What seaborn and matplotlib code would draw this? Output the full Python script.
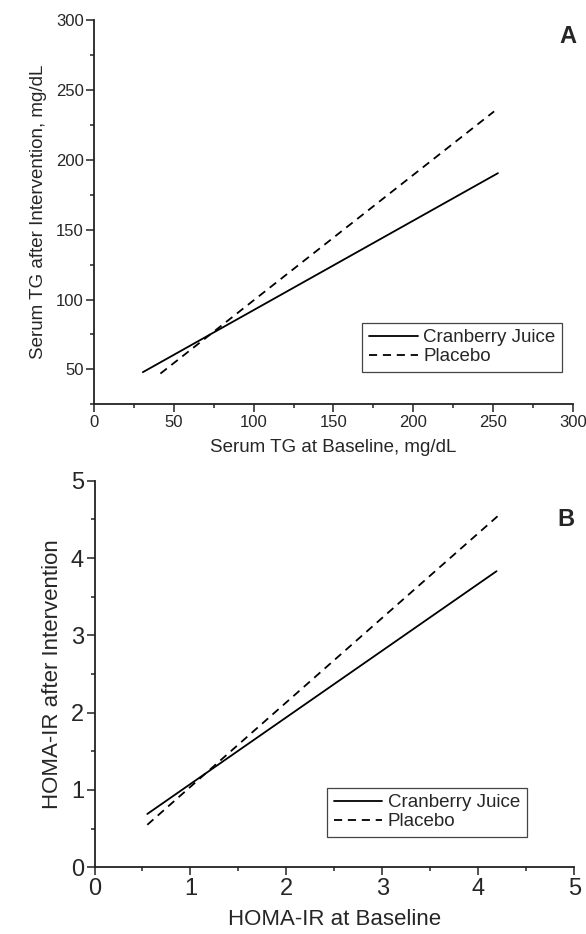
import pandas as pd
import matplotlib
matplotlib.use("Agg")
import matplotlib.pyplot as plt
import seaborn as sns

# Regression lines (start and end points)
groups = ["Cranberry Juice", "Cranberry Juice", "Placebo", "Placebo"]

tg_baseline = [30.6, 253.0, 41.6, 250.6]
tg_after = [48.0, 190.4, 47.0, 234.6]

homa_baseline = [0.55, 4.19, 0.55, 4.20]
homa_after = [0.69, 3.83, 0.55, 4.54]

df_a = pd.DataFrame({"x": tg_baseline, "y": tg_after, "group": groups})
df_b = pd.DataFrame({"x": homa_baseline, "y": homa_after, "group": groups})

sns.set_style("ticks")
plt.rcParams["font.family"] = ["Liberation Sans", "DejaVu Sans"]

fig = plt.figure(figsize=(5.86, 9.34), dpi=100)
ax_a = fig.add_axes([0.1604, 0.5671, 0.8174, 0.4115])
ax_b = fig.add_axes([0.1613, 0.0714, 0.8187, 0.4139])

dash_map = {"Cranberry Juice": "", "Placebo": (4.5, 3.2)}


def draw(ax, df, xlim, ylim, major, minor, xlabel, ylabel, tick_fs, label_fs,
         leg_fs, leg_anchor, letter, letter_pos):
    sns.lineplot(data=df, x="x", y="y", hue="group", style="group",
                 palette=["black", "black"], dashes=dash_map,
                 linewidth=1.3, ax=ax, legend=True)
    ax.set_xlim(*xlim)
    ax.set_ylim(*ylim)
    ax.set_xticks(major[0])
    ax.set_yticks(major[1])
    ax.set_xticks(minor[0], minor=True)
    ax.set_yticks(minor[1], minor=True)
    ax.tick_params(which="major", direction="out", length=5.5, width=1.1,
                   labelsize=tick_fs, pad=2, color="#222222")
    ax.tick_params(which="minor", direction="out", length=3, width=1.1,
                   color="#222222")
    for s in ["top", "right"]:
        ax.spines[s].set_visible(False)
    for s in ["left", "bottom"]:
        ax.spines[s].set_linewidth(1.3)
        ax.spines[s].set_color("#222222")
    ax.set_xlabel(xlabel, fontsize=label_fs, labelpad=7)
    ax.set_ylabel(ylabel, fontsize=label_fs, labelpad=6)

    handles, labels = ax.get_legend_handles_labels()
    leg = ax.legend(handles, labels, loc="lower right",
                    bbox_to_anchor=leg_anchor, fontsize=leg_fs,
                    frameon=True, fancybox=False, framealpha=1,
                    edgecolor="#444444", handlelength=2.6,
                    handletextpad=0.3, borderpad=0.35, labelspacing=0.1,
                    borderaxespad=0)
    leg.get_frame().set_linewidth(0.9)
    for line in leg.get_lines():
        line.set_linewidth(1.3)

    ax.text(letter_pos[0], letter_pos[1], letter, transform=ax.transAxes,
            fontsize=17, fontweight="bold", ha="center", va="center")


draw(ax_a, df_a, (0, 300), (25, 300),
     ([0, 50, 100, 150, 200, 250, 300], [50, 100, 150, 200, 250, 300]),
     ([25, 75, 125, 175, 225, 275], [25, 75, 125, 175, 225, 275]),
     "Serum TG at Baseline, mg/dL", "Serum TG after Intervention, mg/dL",
     12, 13.5, 13.5, (0.977, 0.084), "A", (0.99, 0.958))

draw(ax_b, df_b, (0, 5), (0, 5),
     ([0, 1, 2, 3, 4, 5], [0, 1, 2, 3, 4, 5]),
     ([0.5, 1.5, 2.5, 3.5, 4.5], [0.5, 1.5, 2.5, 3.5, 4.5]),
     "HOMA-IR at Baseline", "HOMA-IR after Intervention",
     17, 16, 13.5, (0.901, 0.079), "B", (0.983, 0.901))

fig.savefig("out.png", dpi=100)
